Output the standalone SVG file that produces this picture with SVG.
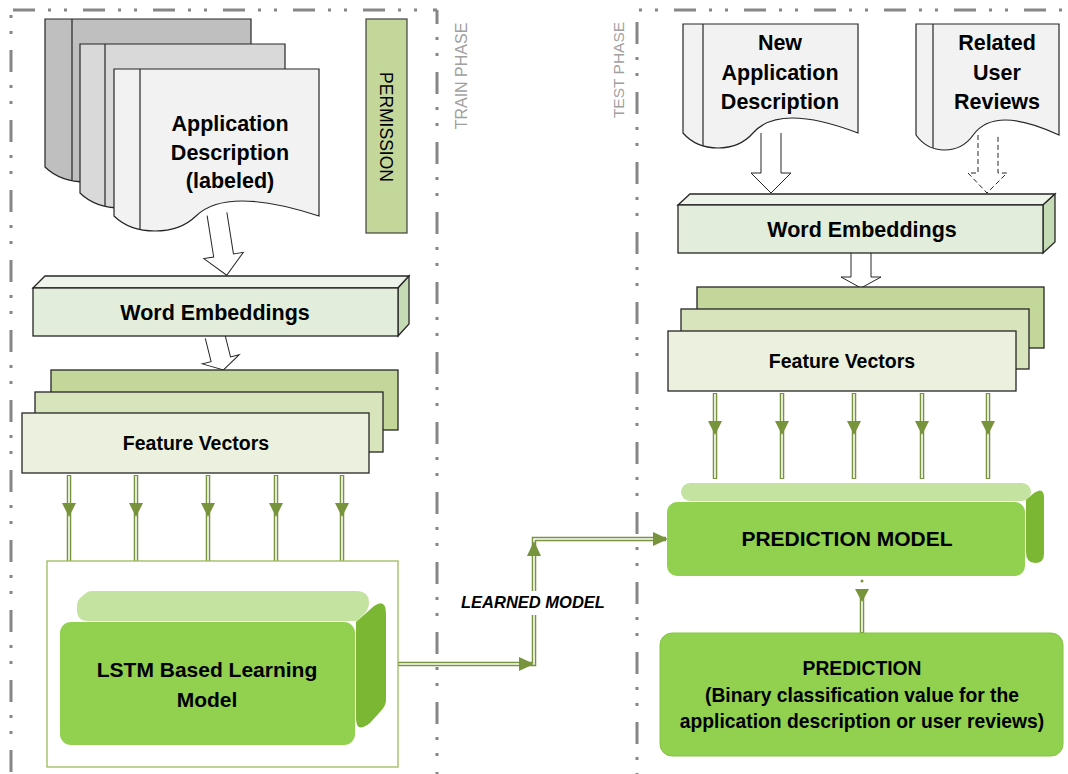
<svg xmlns="http://www.w3.org/2000/svg" width="1068" height="774" viewBox="0 0 1068 774">
<style>
.bd{fill:none;stroke:#868686;stroke-width:3;stroke-dasharray:22 13 3 13 3 16}
.doc{stroke:#262626;stroke-width:1.2}
.ln{fill:none;stroke:#262626;stroke-width:1.2}
.t{font-family:"Liberation Sans",Arial,sans-serif;font-weight:bold;fill:#000;text-anchor:middle}
.ph{font-family:"Liberation Sans",Arial,sans-serif;fill:#a0a0a0;text-anchor:middle}
.hol{fill:#fff;stroke:#262626;stroke-width:1}
.gl{fill:none;stroke:#77933c;stroke-width:4.5}
.gi{fill:none;stroke:#fff;stroke-width:1.6}
.ah{fill:#77933c}
.box{stroke:#262626;stroke-width:1.3}
</style>

<g id="borders">
<path class="bd" d="M11,10 V774" style="stroke-dashoffset:30"/>
<path class="bd" d="M11,10 H437" style="stroke-dashoffset:68"/>
<path class="bd" d="M437,10 V774" style="stroke-dashoffset:8"/>
<path class="bd" d="M637,10 H1068" style="stroke-dashoffset:33"/>
<path class="bd" d="M637,10 V774" style="stroke-dashoffset:58"/>
<text class="ph" font-size="16" transform="translate(467,76) rotate(-90)">TRAIN PHASE</text>
<text class="ph" font-size="15.5" transform="translate(624,70) rotate(-90)">TEST PHASE</text>
</g>

<g id="connectors">
<path class="hol" d="M-10,0 V42 H-20 L0,62 L20,42 H10 V0" transform="translate(217,214) rotate(-9)"/>
<path class="hol" d="M-10,0 V24 H-19 L0,35 L19,24 H10 V0" transform="translate(215,336) rotate(-14)"/>
<path class="hol" d="M761,133 V173 H751 L771,193 L791,173 H781 V133"/>
<path class="hol" d="M978,135 V173 H968 L987,193 L1007,173 H998 V135" style="stroke-dasharray:5 3"/>
<path class="hol" d="M851,253 V277 H841 L861,288 L881,277 H871 V253"/>
<g id="fv-left-arrows">
<path class="gl" d="M69,475 V562 M136,475 V562 M208,475 V562 M276,475 V562 M342,475 V562"/>
<path class="gi" d="M69,476 V561 M136,476 V561 M208,476 V561 M276,476 V561 M342,476 V561"/>
<polygon class="ah" points="62,503 76,503 69,517"/>
<polygon class="ah" points="129,503 143,503 136,517"/>
<polygon class="ah" points="201,503 215,503 208,517"/>
<polygon class="ah" points="269,503 283,503 276,517"/>
<polygon class="ah" points="335,503 349,503 342,517"/>
</g>
<g id="fv-right-arrows">
<path class="gl" d="M715,393 V479 M782,393 V479 M854,393 V479 M922,393 V479 M988,393 V479"/>
<path class="gi" d="M715,394 V478 M782,394 V478 M854,394 V478 M922,394 V478 M988,394 V478"/>
<polygon class="ah" points="708,421 722,421 715,435"/>
<polygon class="ah" points="775,421 789,421 782,435"/>
<polygon class="ah" points="847,421 861,421 854,435"/>
<polygon class="ah" points="915,421 929,421 922,435"/>
<polygon class="ah" points="981,421 995,421 988,435"/>
</g>
<g id="learned-model">
<path class="gl" d="M398,664 H534 V539 H666"/>
<path class="gi" d="M399,664 H534 V539 H665"/>
<polygon class="ah" points="519,657 519,671 534,664"/>
<polygon class="ah" points="527,556 541,556 534,541"/>
<polygon class="ah" points="653,532 653,546 668,539"/>
<rect x="452" y="591" width="162" height="24" fill="#fff"/>
<text class="t" x="533" y="608" font-size="16.5" font-style="italic">LEARNED MODEL</text>
</g>
<g id="to-prediction">
<circle cx="862" cy="581" r="1.5" fill="#77933c"/>
<path class="gl" d="M862,590 V633"/>
<path class="gi" d="M862,591 V632"/>
<polygon class="ah" points="855,589 869,589 862,602"/>
</g>
</g>

<g id="doc-train">
<path class="doc" fill="#bfbfbf" d="M45,19 H251 V167 C189.2,147 148,147 127.4,167 C106.8,187 65.6,187 45,167 Z"/>
<path class="ln" d="M72,19 V180"/>
<path class="doc" fill="#d9d9d9" d="M80,44 H285 V193 C223.5,173 182.5,173 162,193 C141.5,213 100.5,213 80,193 Z"/>
<path class="ln" d="M105,44 V206"/>
<path class="doc" fill="#f2f2f2" d="M114,69 H319 V216 C257.5,196 216.5,196 196,216 C175.5,236 134.5,236 114,216 Z"/>
<path class="ln" d="M140,69 V229"/>
<text class="t" x="230" y="131" font-size="21.5">Application</text>
<text class="t" x="230" y="160" font-size="21.5">Description</text>
<text class="t" x="230" y="188" font-size="21.5">(labeled)</text>
</g>

<g id="permission">
<rect x="366" y="19" width="41" height="214" fill="#c4d79b" stroke="#404040" stroke-width="1.2"/>
<text font-family="Liberation Sans, Arial, sans-serif" font-size="17.5" fill="#000" text-anchor="middle" transform="translate(380,127) rotate(90)">PERMISSION</text>
</g>

<g id="we-train">
<polygon points="33,288 45,276 409,276 398,288" fill="#eef4e9" class="box"/>
<polygon points="398,288 409,276 409,324 398,336" fill="#c5dbb5" class="box"/>
<rect x="33" y="288" width="365" height="48" fill="#e2eedb" class="box"/>
<text class="t" x="215" y="320" font-size="21.5">Word Embeddings</text>
</g>

<g id="fv-train">
<rect x="51" y="370" width="347" height="60" fill="#c4d79b" class="box"/>
<rect x="35" y="392" width="348" height="60" fill="#d8e4bc" class="box"/>
<rect x="22" y="413" width="347" height="60" fill="#ebf1de" class="box"/>
<text class="t" x="196" y="450" font-size="19.5">Feature Vectors</text>
</g>

<g id="lstm">
<rect x="47" y="561" width="351" height="206" fill="#fff" stroke="#9bbb59" stroke-width="1.3"/>
<path fill="#c4e3a0" d="M92,591 H356 Q369,591 369,603 Q369,610 362,616 L357,621 H88 Q77,621 77,610 V605 Q77,601 80,598 L86,593 Q88,591 92,591 Z"/>
<path fill="#7cb734" d="M356,622 L374,606 Q386,598 386,614 V700 Q386,706 380,712 L370,723 Q356,734 356,718 Z"/>
<rect x="60" y="622" width="295" height="123" rx="11" fill="#92d050"/>
<text class="t" x="207" y="677" font-size="21">LSTM Based Learning</text>
<text class="t" x="207" y="707" font-size="21">Model</text>
</g>

<g id="doc-new">
<path class="doc" fill="#f2f2f2" d="M683,24 H858 V133 C805.5,113 770.5,113 753,133 C735.5,153 700.5,153 683,133 Z"/>
<path class="ln" d="M703,24 V146"/>
<text class="t" x="780" y="50" font-size="21.5">New</text>
<text class="t" x="780" y="80" font-size="21.5">Application</text>
<text class="t" x="780" y="109" font-size="21.5">Description</text>
</g>

<g id="doc-reviews">
<path class="doc" fill="#f2f2f2" d="M916,24 H1059 V135 C1016.1,115 987.5,115 973.2,135 C958.9,155 930.3,155 916,135 Z"/>
<path class="ln" d="M933,24 V148"/>
<text class="t" x="997" y="50" font-size="21.5">Related</text>
<text class="t" x="997" y="80" font-size="21.5">User</text>
<text class="t" x="997" y="109" font-size="21.5">Reviews</text>
</g>

<g id="we-test">
<polygon points="678,205 690,194 1055,194 1043,205" fill="#eef4e9" class="box"/>
<polygon points="1043,205 1055,194 1055,242 1043,253" fill="#c5dbb5" class="box"/>
<rect x="678" y="205" width="365" height="48" fill="#e2eedb" class="box"/>
<text class="t" x="862" y="237" font-size="21.5">Word Embeddings</text>
</g>

<g id="fv-test">
<rect x="697" y="287" width="347" height="61" fill="#c4d79b" class="box"/>
<rect x="681" y="309" width="348" height="60" fill="#d8e4bc" class="box"/>
<rect x="668" y="331" width="348" height="60" fill="#ebf1de" class="box"/>
<text class="t" x="842" y="368" font-size="19.5">Feature Vectors</text>
</g>

<g id="prediction-model">
<rect x="681" y="483" width="350" height="18" rx="9" fill="#c4e3a0"/>
<path fill="#7cb734" d="M1026,500 L1034,493 Q1044,486 1044,498 V554 Q1044,563 1035,563 Q1026,563 1026,552 Z"/>
<rect x="667" y="502" width="358" height="74" rx="10" fill="#92d050"/>
<text class="t" x="847" y="546" font-size="21">PREDICTION MODEL</text>
</g>

<g id="prediction">
<rect x="660" y="633" width="403" height="123" rx="12" fill="#92d050" stroke="#85c441" stroke-width="1"/>
<text class="t" x="862" y="675" font-size="19.3">PREDICTION</text>
<text class="t" x="862" y="702" font-size="19.3">(Binary classification value for the</text>
<text class="t" x="862" y="728" font-size="19.3">application description or user reviews)</text>
</g>
</svg>
